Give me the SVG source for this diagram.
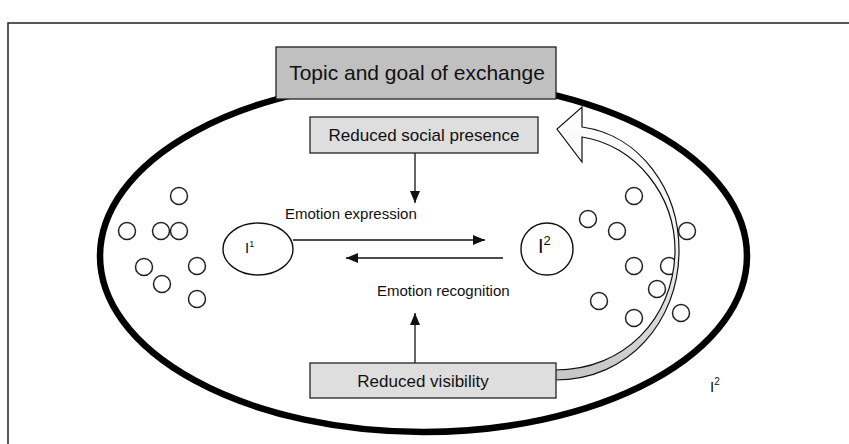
<svg xmlns="http://www.w3.org/2000/svg" width="849" height="444" viewBox="0 0 849 444">
<style>
text{font-family:"Liberation Sans",Arial,sans-serif;fill:#111}
.box{stroke:#222;stroke-width:1.3}
.small{fill:none;stroke:#222;stroke-width:1.5}
.ln{stroke:#111;stroke-width:1.3;fill:none}
</style>
<defs>
<marker id="ah" viewBox="0 0 12 10" refX="12" refY="5" markerWidth="12" markerHeight="10" markerUnits="userSpaceOnUse" orient="auto">
<path d="M0,0 L12,5 L0,10 Z" fill="#111"/>
</marker>
<linearGradient id="g" x1="0" y1="100" x2="0" y2="385" gradientUnits="userSpaceOnUse">
<stop offset="0" stop-color="#ffffff"/>
<stop offset="0.5" stop-color="#f2f2f2"/>
<stop offset="1" stop-color="#c4c4c4"/>
</linearGradient>
</defs>
<rect width="849" height="444" fill="#fff"/>
<rect x="8" y="23" width="870" height="450" fill="none" stroke="#222" stroke-width="1.5"/>
<g id="field">
<ellipse cx="423.5" cy="256" rx="323.5" ry="176" fill="none" stroke="#000" stroke-width="6.5"/>
</g>
<g id="crowd">
<circle class="small" cx="179" cy="196" r="8.5"/>
<circle class="small" cx="127" cy="231" r="8.5"/>
<circle class="small" cx="161" cy="231" r="8.5"/>
<circle class="small" cx="179" cy="231" r="8.5"/>
<circle class="small" cx="144" cy="267" r="8.5"/>
<circle class="small" cx="197" cy="266" r="8.5"/>
<circle class="small" cx="162" cy="284" r="8.5"/>
<circle class="small" cx="197" cy="299" r="8.5"/>
<circle class="small" cx="634" cy="196" r="8.5"/>
<circle class="small" cx="588" cy="219" r="8.5"/>
<circle class="small" cx="617" cy="231" r="8.5"/>
<circle class="small" cx="687" cy="231" r="8.5"/>
<circle class="small" cx="634" cy="266" r="8.5"/>
<circle class="small" cx="669" cy="266" r="8.5"/>
<circle class="small" cx="657" cy="289" r="8.5"/>
<circle class="small" cx="599" cy="301" r="8.5"/>
<circle class="small" cx="634" cy="318" r="8.5"/>
<circle class="small" cx="681" cy="313" r="8.5"/>
</g>
<g id="topic">
<rect class="box" x="276" y="47" width="280" height="52" fill="#c0c0c0"/>
<text x="417" y="80" font-size="21" text-anchor="middle">Topic and goal of exchange</text>
</g>
<g id="connectors">
<line class="ln" x1="415" y1="153" x2="415" y2="203" marker-end="url(#ah)"/>
<line class="ln" x1="293" y1="240" x2="485" y2="240" marker-end="url(#ah)"/>
<line class="ln" x1="503" y1="258" x2="346" y2="258" marker-end="url(#ah)"/>
<line class="ln" x1="415" y1="363" x2="415" y2="313" marker-end="url(#ah)"/>
<path d="M555,370 C625,370 673,318 675,253 C676,195 635,145 582,137 L582,162 L557,129 L582,107 L582,127 C640,135 680,190 679,253 C678,320 630,380 555,380 Z" fill="url(#g)" stroke="#111" stroke-width="1.2" stroke-linejoin="miter"/>
<text x="285" y="219" font-size="15">Emotion expression</text>
<text x="377" y="296" font-size="15">Emotion recognition</text>
</g>
<g id="social">
<rect class="box" x="310" y="117" width="228" height="36" fill="#dedede"/>
<text x="424" y="141" font-size="17" text-anchor="middle">Reduced social presence</text>
</g>
<g id="visibility">
<rect class="box" x="310" y="363" width="246" height="35" fill="#dedede"/>
<text x="423" y="387" font-size="17" text-anchor="middle">Reduced visibility</text>
</g>
<g id="i1">
<ellipse cx="258" cy="249" rx="35" ry="26" fill="#fff" stroke="#111" stroke-width="1.4"/>
<text x="245" y="253" font-size="15">I<tspan font-size="9" dy="-6">1</tspan></text>
</g>
<g id="i2">
<circle cx="547" cy="249" r="26" fill="#fff" stroke="#111" stroke-width="1.4"/>
<text x="538" y="253" font-size="20">I<tspan font-size="13" dy="-8">2</tspan></text>
</g>
<g id="i2-label">
<text x="710" y="392" font-size="15">I<tspan font-size="10" dy="-7">2</tspan></text>
</g>
</svg>
